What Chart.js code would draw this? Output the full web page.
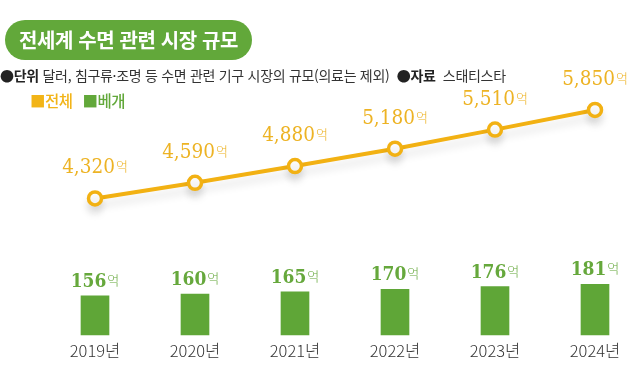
<!DOCTYPE html>
<html lang="ko">
<head>
<meta charset="utf-8">
<script src="https://cdn.jsdelivr.net/npm/chart.js@4"></script>
<style>
  html, body { margin: 0; padding: 0; background: #fff; width: 640px; height: 386px; overflow: hidden; }
  #wrap { position: absolute; left: 0; top: 0; width: 660px; height: 386px; }
  .pill { position: absolute; left: 5px; top: 20px; width: 247px; height: 40px; border-radius: 20px; background: #62a83a;
          color: #fff; font-family: "Noto Sans CJK KR", sans-serif; font-weight: 700; font-size: 20px; line-height: 40px; text-align: center; letter-spacing: -0.4px; }
  .sub { position: absolute; left: 0; top: 66px; font-family: "Noto Sans CJK KR", sans-serif; font-size: 14px; line-height: 18px; color: #333; letter-spacing: -0.3px; white-space: nowrap; }
  .sub b { font-weight: 700; color: #222; }
  .legend { position: absolute; left: 30px; top: 90px; font-family: "Noto Sans CJK KR", sans-serif; font-size: 15.5px; line-height: 20px; font-weight: 500; white-space: nowrap; letter-spacing: -0.5px; }
  .legend span { margin-right: 10px; }
</style>
</head>
<body>
<div id="wrap"><canvas id="c"></canvas></div>
<div class="pill">전세계 수면 관련 시장 규모</div>
<div class="sub"><b>●단위</b> 달러, 침구류·조명 등 수면 관련 기구 시장의 규모(의료는 제외) &nbsp;<b>●자료</b> &nbsp;스태티스타</div>
<div class="legend"><span style="color:#f2b417">■전체</span><span style="color:#62a83a">■베개</span></div>
<script>
const years = ['2019년', '2020년', '2021년', '2022년', '2023년', '2024년'];
const totalValues = [4320, 4590, 4880, 5180, 5510, 5850];
const pillowValues = [156, 160, 165, 170, 176, 181];
const unitLabel = '억';

const ORANGE = '#f2b113';
const ORANGE_TEXT = '#edb324';
const GREEN = '#5fa637';
const GREEN_TEXT = '#66a83c';

const valueLabels = {
  id: 'valueLabels',
  afterDatasetsDraw(chart) {
    const ctx = chart.ctx;
    chart.data.datasets.forEach((ds, di) => {
      const meta = chart.getDatasetMeta(di);
      const isLine = ds.type === 'line';
      const numFont = isLine ? 'condensed 400 20.5px "DejaVu Serif", serif' : 'condensed 700 19px "DejaVu Serif", serif';
      const unitFont = '300 13px "Noto Sans CJK KR", sans-serif';
      const color = isLine ? ORANGE_TEXT : GREEN_TEXT;
      meta.data.forEach((el, i) => {
        const txt = ds.data[i].toLocaleString('en-US');
        ctx.save();
        ctx.font = numFont;
        const w1 = ctx.measureText(txt).width;
        ctx.font = unitFont;
        const w2 = ctx.measureText(unitLabel).width;
        const x0 = el.x - (w1 + w2 + 1) / 2;
        const base = isLine ? el.y - 25 : el.y - 9;
        ctx.fillStyle = color;
        ctx.textBaseline = 'alphabetic';
        ctx.textAlign = 'left';
        ctx.font = numFont;
        ctx.fillText(txt, x0, base);
        ctx.font = unitFont;
        ctx.fillText(unitLabel, x0 + w1 + 1, base - 2);
        ctx.restore();
      });
    });
  }
};

const lineShadow = {
  id: 'lineShadow',
  beforeDatasetDraw(chart, args) {
    if (chart.data.datasets[args.index].type === 'line') {
      const ctx = chart.ctx;
      ctx.save();
      ctx.shadowColor = 'rgba(0,0,0,0.12)';
      ctx.shadowBlur = 8;
      ctx.shadowOffsetY = 7;
    }
  },
  afterDatasetDraw(chart, args) {
    if (chart.data.datasets[args.index].type === 'line') chart.ctx.restore();
  }
};

new Chart(document.getElementById('c'), {
  type: 'bar',
  data: {
    labels: years,
    datasets: [
      {
        type: 'line', label: '전체', data: totalValues, yAxisID: 'y',
        borderColor: ORANGE, borderWidth: 4, tension: 0,
        pointRadius: 6.5, pointBorderWidth: 3.5, pointBackgroundColor: '#fff', pointBorderColor: ORANGE,
        clip: false
      },
      {
        type: 'bar', label: '베개', data: pillowValues, yAxisID: 'y1',
        backgroundColor: GREEN, barThickness: 28, borderWidth: 0
      }
    ]
  },
  options: {
    responsive: true, maintainAspectRatio: false, animation: false,
    layout: { padding: { left: 45, right: 15, top: 100, bottom: 19 } },
    plugins: { legend: { display: false }, tooltip: { enabled: false }, title: { display: false } },
    scales: {
      x: {
        offset: true,
        grid: { display: false, drawTicks: false, tickLength: 0 },
        border: { display: false },
        ticks: { color: '#333', padding: 6, font: { family: '"Noto Sans CJK KR", sans-serif', size: 16.5, weight: 300 } }
      },
      y: { display: false, min: 1956, max: 6022 },
      y1: { display: false, min: 70, max: 584 }
    }
  },
  plugins: [valueLabels, lineShadow]
});
</script>
</body>
</html>
